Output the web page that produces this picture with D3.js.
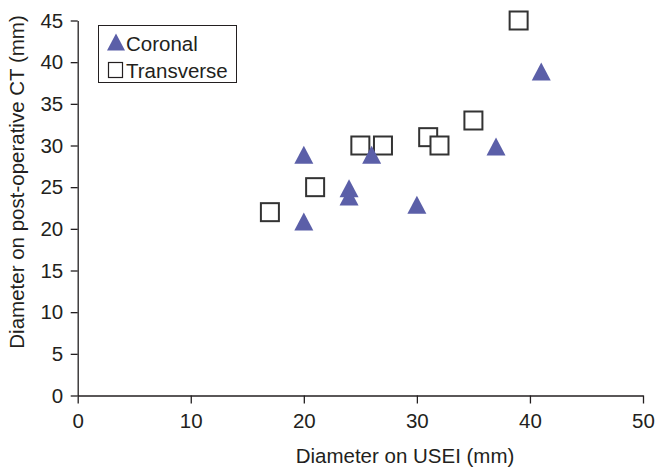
<!DOCTYPE html>
<html lang="en">
<head>
  <meta charset="UTF-8">
  <title>Diameter scatter</title>
  <script src="https://d3js.org/d3.v7.min.js"></script>
  <style>
    body { margin: 0; background: #fff; }
    text { font-family: "Liberation Sans", Arial, sans-serif; fill: #231f20; }
  </style>
</head>
<body>
  <div id="container"></div>
  <script>
    // coronal measurements [USEI, CT]
    const coronal = [
      [20, 29], [20, 21], [24, 25], [24, 24], [26, 29], [30, 23], [37, 30], [41, 39]
    ]
    // transverse measurements [USEI, CT]
    const transverse = [
      [17, 22], [21, 25], [25, 30], [27, 30], [31, 31], [32, 30], [35, 33], [39, 45]
    ]
    const xTicks = [0, 10, 20, 30, 40, 50]
    const yTicks = [0, 5, 10, 15, 20, 25, 30, 35, 40, 45]

    const W = 655, H = 468
    const fs = '20.5px'

    const svg = d3.select('#container').append('svg')
      .attr('width', W)
      .attr('height', H)

    const x = d3.scaleLinear().domain([0, 50]).range([77.7, 643])
    const y = d3.scaleLinear().domain([0, 45]).range([395.5, 20.5])

    const xAxis = svg.append('g')
      .attr('transform', `translate(0,${y(0)})`)
      .call(d3.axisBottom(x).tickValues(xTicks).tickSize(8).tickPadding(10).tickSizeOuter(0))
    const yAxis = svg.append('g')
      .attr('transform', `translate(${x(0)},0)`)
      .call(d3.axisLeft(y).tickValues(yTicks).tickSize(7).tickPadding(7.5).tickSizeOuter(0))

    ;[xAxis, yAxis].forEach(g => {
      g.selectAll('path, line').attr('stroke', '#231f20').attr('stroke-width', 1.3)
      g.selectAll('text').style('font-size', fs).attr('fill', '#231f20')
    })

    svg.append('text')
      .attr('x', 405)
      .attr('y', 463)
      .attr('text-anchor', 'middle')
      .style('font-size', fs)
      .text('Diameter on USEI (mm)')

    svg.append('text')
      .attr('transform', 'translate(24,182) rotate(-90)')
      .attr('text-anchor', 'middle')
      .style('font-size', fs)
      .text('Diameter on post-operative CT (mm)')

    const triColor = '#5b5fa8'
    // slightly taller than equilateral, like the original markers
    const triType = {
      draw (ctx, size) {
        const w = Math.sqrt(size) / 2, h = w * 0.95
        ctx.moveTo(0, -h)
        ctx.lineTo(w, h)
        ctx.lineTo(-w, h)
        ctx.closePath()
      }
    }
    const tri = d3.symbol().type(triType).size(361)

    svg.selectAll('rect.transverse')
      .data(transverse)
      .enter()
      .append('rect')
        .attr('class', 'transverse')
        .attr('x', d => x(d[0]) - 9)
        .attr('y', d => y(d[1]) - 9)
        .attr('width', 18)
        .attr('height', 18)
        .attr('fill', '#fff')
        .attr('stroke', '#333')
        .attr('stroke-width', 2)

    svg.selectAll('path.coronal')
      .data(coronal)
      .enter()
      .append('path')
        .attr('class', 'coronal')
        .attr('d', tri)
        .attr('transform', d => `translate(${x(d[0])},${y(d[1]) + 1})`)
        .attr('fill', triColor)

    // legend
    const lg = svg.append('g')
    lg.append('rect')
      .attr('x', 98.5).attr('y', 25.5)
      .attr('width', 138).attr('height', 57)
      .attr('fill', '#fff').attr('stroke', '#231f20').attr('stroke-width', 1)
    lg.append('path')
      .attr('d', d3.symbol().type(triType).size(324))
      .attr('transform', 'translate(116,42)')
      .attr('fill', triColor)
    lg.append('text').attr('x', 126).attr('y', 51).style('font-size', fs).text('Coronal')
    lg.append('rect')
      .attr('x', 108.5).attr('y', 62.5).attr('width', 14).attr('height', 15)
      .attr('fill', '#fff').attr('stroke', '#231f20').attr('stroke-width', 1.2)
    lg.append('text').attr('x', 126).attr('y', 78).style('font-size', fs).text('Transverse')
  </script>
</body>
</html>
